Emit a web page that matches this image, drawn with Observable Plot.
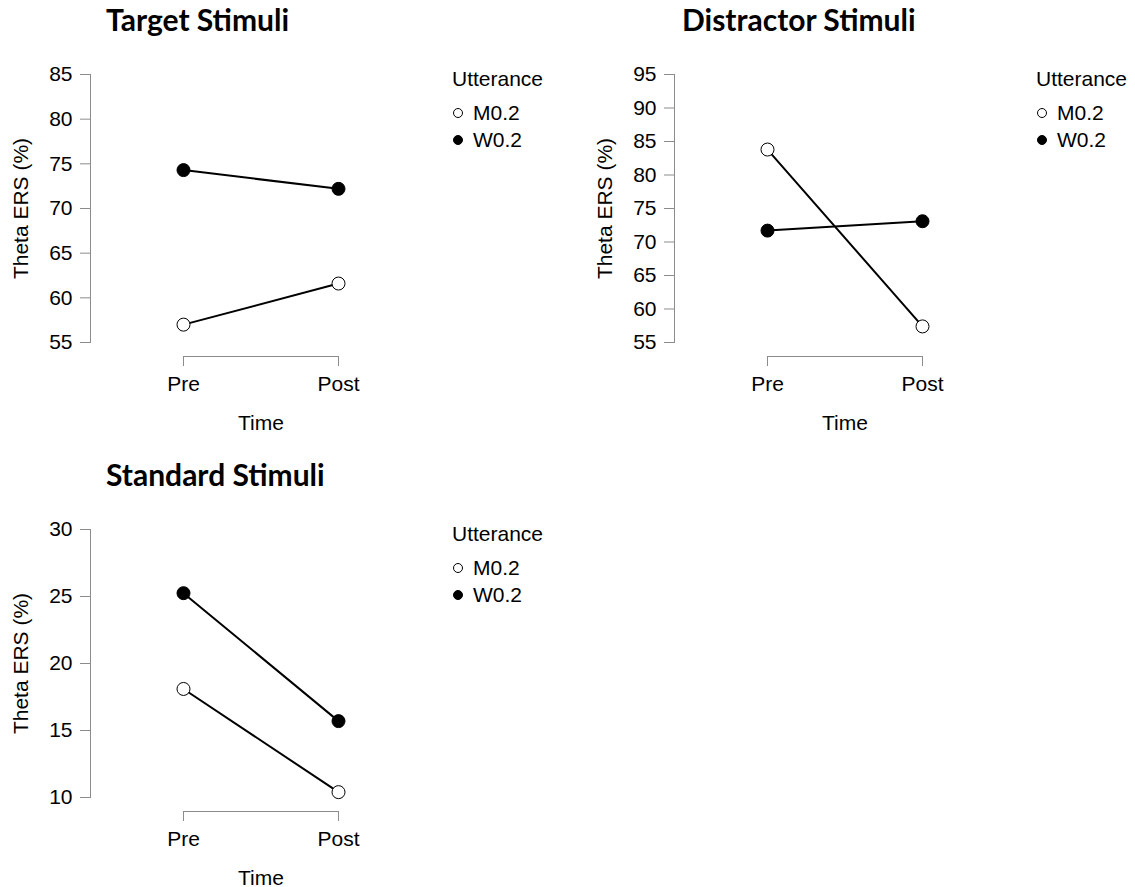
<!DOCTYPE html>
<html>
<head>
<meta charset="utf-8">
<script src="https://cdn.jsdelivr.net/npm/d3@7"></script>
<script src="https://cdn.jsdelivr.net/npm/@observablehq/plot@0.6"></script>
<style>
  html, body { margin: 0; padding: 0; background: #fff; overflow: hidden; }
  body { width: 1135px; height: 887px; position: relative; font-family: "Liberation Sans", Arial, sans-serif; }
  .panel { position: absolute; width: 560px; height: 432px; }
  .panel svg { position: absolute; left: 0; top: 0; }
  .title { position: absolute; top: 1px; font-family: Lato, "Open Sans", sans-serif; font-weight: 700; font-size: 30px; color: #000; white-space: nowrap; }
  .legend { position: absolute; left: 452px; top: 65px; font-size: 21px; color: #000; line-height: 27px; }
  .legend .item { display: flex; align-items: center; }
  .legend .item.first { margin-top: 7px; }
  .legend .sw { width: 10px; height: 10px; border-radius: 50%; border: 1px solid #000; box-sizing: border-box; margin: 0 10px 0 1px; }
</style>
</head>
<body>
<script>
// ---- data ----
const times = ["Pre", "Post"];
const utterances = ["M0.2", "W0.2"];
const utteranceFill = ["white", "black"];

const panelTitles = ["Target Stimuli", "Distractor Stimuli", "Standard Stimuli"];

// values per panel: [Pre, Post]
const targetM = [57.0, 61.6];
const targetW = [74.3, 72.2];
const distractorM = [83.8, 57.4];
const distractorW = [71.7, 73.1];
const standardM = [18.1, 10.4];
const standardW = [25.25, 15.7];

const targetTicks = [55, 60, 65, 70, 75, 80, 85];
const distractorTicks = [55, 60, 65, 70, 75, 80, 85, 90, 95];
const standardTicks = [10, 15, 20, 25, 30];

const yLabel = "Theta ERS (%)";
const xLabel = "Time";
const legendTitle = "Utterance";

// ---- layout ----
const panels = [
  {title: panelTitles[0], M: targetM, W: targetW, ticks: targetTicks, left: 0, top: 0, titleLeft: 106},
  {title: panelTitles[1], M: distractorM, W: distractorW, ticks: distractorTicks, left: 584, top: 0, titleLeft: 98},
  {title: panelTitles[2], M: standardM, W: standardW, ticks: standardTicks, left: 0, top: 455, titleLeft: 106}
];

const gray = "#8c8c8c";

for (const p of panels) {
  const data = [];
  times.forEach((t, i) => {
    data.push({time: t, utterance: utterances[0], value: p.M[i]});
    data.push({time: t, utterance: utterances[1], value: p.W[i]});
  });
  const yMin = d3.min(p.ticks), yMax = d3.max(p.ticks);

  const div = document.createElement("div");
  div.className = "panel";
  div.style.left = p.left + "px";
  div.style.top = p.top + "px";
  document.body.appendChild(div);

  const chart = Plot.plot({
    width: 440,
    height: 432,
    marginLeft: 90,
    marginRight: 9,
    marginTop: 74,
    marginBottom: 90,
    style: {fontFamily: "Liberation Sans, Arial, sans-serif", fontSize: "21px", color: "black", background: "transparent", overflow: "visible"},
    x: {type: "point", domain: times, padding: 0.6},
    y: {domain: [yMin, yMax]},
    color: {domain: utterances, range: utteranceFill},
    marks: [
      Plot.frame({anchor: "left", stroke: gray}),
      Plot.axisY({ticks: p.ticks, tickSize: 10, tickPadding: 8, stroke: gray, fill: "black",
                  label: yLabel, labelArrow: "none", labelAnchor: "center", labelOffset: 77}),
      Plot.ruleY([yMin], {x1: () => times[0], x2: () => times[times.length - 1], dy: 14, stroke: gray}),
      Plot.axisX({tickSize: 10, tickPadding: 10, dy: 14, stroke: gray, fill: "black",
                  label: xLabel, labelArrow: "none", labelAnchor: "center", labelOffset: 87}),
      Plot.line(data, {x: "time", y: "value", z: "utterance", stroke: "black", strokeWidth: 2}),
      Plot.dot(data, {x: "time", y: "value", r: 6.5, fill: "utterance", stroke: "black", strokeWidth: 1})
    ]
  });
  div.appendChild(chart);

  const title = document.createElement("div");
  title.className = "title";
  title.style.left = p.titleLeft + "px";
  title.textContent = p.title;
  div.appendChild(title);

  const legend = document.createElement("div");
  legend.className = "legend";
  const lt = document.createElement("div");
  lt.textContent = legendTitle;
  legend.appendChild(lt);
  utterances.forEach((u, i) => {
    const item = document.createElement("div");
    item.className = "item" + (i === 0 ? " first" : "");
    const sw = document.createElement("span");
    sw.className = "sw";
    sw.style.background = utteranceFill[i];
    item.appendChild(sw);
    const tx = document.createElement("span");
    tx.textContent = u;
    item.appendChild(tx);
    legend.appendChild(item);
  });
  div.appendChild(legend);
}
</script>
</body>
</html>
